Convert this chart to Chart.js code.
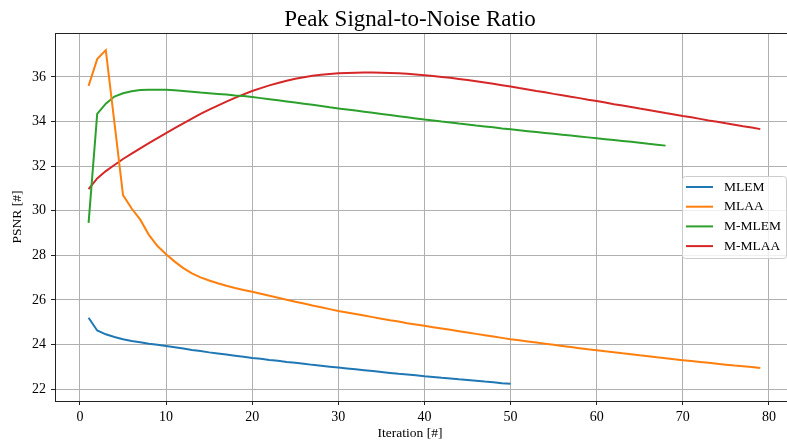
<!DOCTYPE html>
<html>
<head>
<meta charset="utf-8">
<title>Peak Signal-to-Noise Ratio</title>
<script src="https://cdn.jsdelivr.net/npm/chart.js@4.4.1/dist/chart.umd.min.js"></script>
<style>
  html, body { margin: 0; padding: 0; background: #fff; }
  canvas { display: block; }
</style>
</head>
<body>
<canvas id="psnrChart" width="787" height="444"></canvas>
<script>
// ===== DATA =====
const xTicks = [0, 10, 20, 30, 40, 50, 60, 70, 80];
const yTicks = [22, 24, 26, 28, 30, 32, 34, 36];

// PSNR per iteration, starting at iteration 1
const mlem = [
  25.20, 24.63, 24.46, 24.34, 24.24, 24.16, 24.10, 24.04, 23.99, 23.94,
  23.88, 23.82, 23.76, 23.71, 23.65, 23.60, 23.55, 23.50, 23.45, 23.40,
  23.36, 23.31, 23.27, 23.22, 23.18, 23.14, 23.09, 23.05, 23.01, 22.97,
  22.93, 22.89, 22.85, 22.81, 22.77, 22.73, 22.69, 22.66, 22.62, 22.58,
  22.55, 22.51, 22.48, 22.44, 22.41, 22.38, 22.34, 22.31, 22.27, 22.24
];

const mlaa = [
  35.60, 36.80, 37.20, 33.95, 30.70, 30.10, 29.60, 28.92, 28.42, 28.05,
  27.72, 27.43, 27.19, 27.01, 26.87, 26.75, 26.64, 26.54, 26.45, 26.37,
  26.28, 26.19, 26.10, 26.01, 25.92, 25.84, 25.75, 25.67, 25.59, 25.51,
  25.44, 25.37, 25.30, 25.23, 25.16, 25.09, 25.03, 24.96, 24.90, 24.84,
  24.78, 24.72, 24.66, 24.60, 24.54, 24.48, 24.42, 24.36, 24.30, 24.24,
  24.19, 24.14, 24.09, 24.04, 23.99, 23.94, 23.89, 23.84, 23.79, 23.75,
  23.70, 23.66, 23.61, 23.57, 23.52, 23.48, 23.43, 23.39, 23.34, 23.30,
  23.26, 23.22, 23.18, 23.14, 23.10, 23.06, 23.03, 22.99, 22.95
];

const mMlem = [
  29.46, 34.34, 34.80, 35.12, 35.27, 35.36, 35.41, 35.43, 35.43, 35.42,
  35.40, 35.37, 35.34, 35.30, 35.27, 35.24, 35.21, 35.17, 35.14, 35.10,
  35.05, 35.00, 34.95, 34.90, 34.85, 34.80, 34.75, 34.70, 34.64, 34.59,
  34.54, 34.49, 34.44, 34.39, 34.34, 34.29, 34.24, 34.19, 34.14, 34.09,
  34.05, 34.00, 33.96, 33.91, 33.87, 33.82, 33.78, 33.74, 33.69, 33.65,
  33.61, 33.57, 33.53, 33.49, 33.45, 33.41, 33.37, 33.33, 33.29, 33.25,
  33.21, 33.17, 33.13, 33.09, 33.05, 33.00, 32.96, 32.92
];

const mMlaa = [
  30.97, 31.45, 31.78, 32.05, 32.32, 32.56, 32.80, 33.03, 33.26, 33.48,
  33.70, 33.92, 34.13, 34.34, 34.53, 34.71, 34.89, 35.06, 35.22, 35.37,
  35.50, 35.62, 35.73, 35.83, 35.92, 35.99, 36.05, 36.10, 36.13, 36.16,
  36.18, 36.19, 36.20, 36.20, 36.19, 36.18, 36.16, 36.14, 36.11, 36.08,
  36.04, 36.00, 35.96, 35.91, 35.86, 35.81, 35.75, 35.69, 35.63, 35.57,
  35.50, 35.44, 35.37, 35.31, 35.24, 35.18, 35.11, 35.05, 34.98, 34.92,
  34.85, 34.78, 34.72, 34.65, 34.58, 34.52, 34.45, 34.38, 34.32, 34.25,
  34.19, 34.12, 34.05, 33.99, 33.92, 33.86, 33.79, 33.73, 33.66
];

const seriesLabels = ['MLEM', 'MLAA', 'M-MLEM', 'M-MLAA'];
const seriesColors = ['#1f77b4', '#ff7f0e', '#2ca02c', '#d62728'];


// ===== HELPERS =====
const serif = "'Liberation Serif', 'DejaVu Serif', serif";

function toPoints(values) {
  return values.map((v, i) => ({ x: i + 1, y: v }));
}


// ===== EXTRA DRAWING (title, top spine, x label, legend) =====
const decorations = {
  id: 'decorations',
  afterDraw(chart) {
    const { ctx, chartArea } = chart;
    ctx.save();

    // top spine
    ctx.strokeStyle = '#222';
    ctx.lineWidth = 1;
    ctx.beginPath();
    ctx.moveTo(chartArea.left, chartArea.top + 0.5);
    ctx.lineTo(chartArea.right, chartArea.top + 0.5);
    ctx.stroke();

    // title
    ctx.fillStyle = '#000';
    ctx.textAlign = 'center';
    ctx.textBaseline = 'alphabetic';
    ctx.font = `23px ${serif}`;
    ctx.fillText('Peak Signal-to-Noise Ratio', 410, 26);

    // x axis label
    ctx.font = `13.5px ${serif}`;
    ctx.textBaseline = 'middle';
    ctx.fillText('Iteration [#]', 410, 433);

    // legend box
    const box = { x: 682, y: 176, w: 104, h: 82 };
    ctx.fillStyle = 'rgba(255, 255, 255, 0.8)';
    ctx.strokeStyle = '#cccccc';
    ctx.beginPath();
    ctx.roundRect(box.x + 0.5, box.y + 0.5, box.w, box.h, 3);
    ctx.fill();
    ctx.stroke();

    ctx.textAlign = 'left';
    chart.data.datasets.forEach((ds, i) => {
      const y = 187 + i * 19.7;
      ctx.strokeStyle = ds.borderColor;
      ctx.lineWidth = 2;
      ctx.beginPath();
      ctx.moveTo(686, y);
      ctx.lineTo(713, y);
      ctx.stroke();
      ctx.fillStyle = '#000';
      ctx.fillText(ds.label, 724, y);
    });

    ctx.restore();
  }
};


// ===== CHART =====
const ctx = document.getElementById('psnrChart').getContext('2d');

new Chart(ctx, {
  type: 'line',
  data: {
    datasets: [mlem, mlaa, mMlem, mMlaa].map((values, i) => ({
      label: seriesLabels[i],
      data: toPoints(values),
      borderColor: seriesColors[i],
      backgroundColor: seriesColors[i],
      borderWidth: 2,
      pointRadius: 0,
      tension: 0,
      fill: false
    }))
  },
  options: {
    responsive: false,
    animation: false,
    devicePixelRatio: 1,
    layout: {
      padding: { top: 33, right: 0, bottom: 0, left: 0 }
    },
    plugins: {
      legend: { display: false },
      title: { display: false },
      tooltip: { enabled: false }
    },
    scales: {
      x: {
        type: 'linear',
        min: -2.9,
        max: 82.1,
        afterBuildTicks: scale => { scale.ticks = xTicks.map(v => ({ value: v })); },
        afterFit: scale => { scale.height = 43; },
        grid: { color: '#b0b0b0', lineWidth: 1, tickLength: 4, tickColor: '#222' },
        border: { display: true, color: '#222', width: 1 },
        ticks: {
          color: '#000',
          padding: 4,
          maxRotation: 0,
          font: { family: serif, size: 14 }
        }
      },
      y: {
        type: 'linear',
        min: 21.47,
        max: 37.97,
        afterBuildTicks: scale => { scale.ticks = yTicks.map(v => ({ value: v })); },
        afterFit: scale => { scale.width = 55; },
        grid: { color: '#b0b0b0', lineWidth: 1, tickLength: 4, tickColor: '#222' },
        border: { display: true, color: '#222', width: 1 },
        title: {
          display: true,
          text: 'PSNR [#]',
          color: '#000',
          font: { family: serif, size: 13.5 },
          padding: { top: 9, bottom: 0 }
        },
        ticks: {
          color: '#000',
          padding: 5,
          font: { family: serif, size: 14 }
        }
      }
    }
  },
  plugins: [decorations]
});
</script>
</body>
</html>
